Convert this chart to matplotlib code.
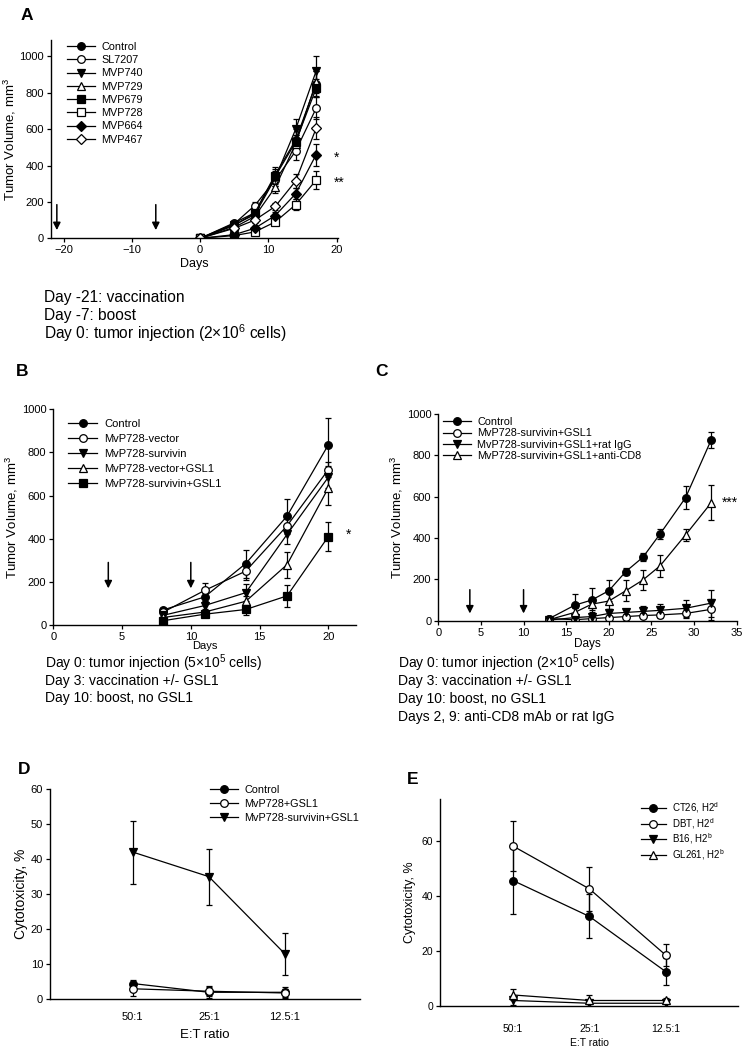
import matplotlib
matplotlib.use("Agg")
import matplotlib.pyplot as plt
from matplotlib.lines import Line2D

plt.rcParams['font.family'] = ['Liberation Sans', 'DejaVu Sans']
plt.rcParams['mathtext.fontset'] = 'custom'
plt.rcParams['mathtext.rm'] = 'Liberation Sans'

# ---------------- Panel A data ----------------
days_a = [0, 5, 8, 11, 14, 17]
a_names = ["Control", "SL7207", "MVP740", "MVP729", "MVP679", "MVP728", "MVP664", "MVP467"]
a_control = [0, 85, 140, 350, 540, 850]
a_control_err = [0, 10, 20, 40, 60, 70]
a_sl7207 = [0, 80, 180, 320, 480, 715]
a_sl7207_err = [0, 10, 20, 30, 50, 60]
a_mvp740 = [0, 75, 130, 330, 600, 920]
a_mvp740_err = [0, 10, 20, 40, 55, 80]
a_mvp729 = [0, 60, 120, 280, 520, 860]
a_mvp729_err = [0, 10, 20, 30, 50, 60]
a_mvp679 = [0, 70, 140, 340, 530, 825]
a_mvp679_err = [0, 10, 20, 40, 40, 50]
a_mvp728 = [0, 15, 35, 90, 185, 320]
a_mvp728_err = [0, 5, 10, 15, 30, 50]
a_mvp664 = [0, 20, 55, 125, 245, 460]
a_mvp664_err = [0, 5, 10, 20, 30, 60]
a_mvp467 = [0, 55, 100, 175, 315, 605]
a_mvp467_err = [0, 10, 15, 20, 40, 60]
a_arrows = [-21, -6.5]
a_text = ["Day -21: vaccination", "Day -7: boost", "Day 0: tumor injection (2×10$^6$ cells)"]

# ---------------- Panel B data ----------------
days_b = [8, 11, 14, 17, 20]
b_names = ["Control", "MvP728-vector", "MvP728-survivin", "MvP728-vector+GSL1", "MvP728-survivin+GSL1"]
b_control = [70, 130, 285, 505, 835]
b_control_err = [8, 20, 65, 80, 125]
b_vector = [60, 160, 250, 460, 720]
b_vector_err = [8, 35, 40, 40, 35]
b_survivin = [45, 90, 150, 420, 685]
b_survivin_err = [8, 20, 40, 45, 50]
b_vector_gsl = [35, 60, 110, 280, 635]
b_vector_gsl_err = [8, 15, 25, 60, 80]
b_survivin_gsl = [20, 50, 72, 135, 410]
b_survivin_gsl_err = [5, 12, 25, 50, 68]
b_arrows = [4, 10]
b_text = ["Day 0: tumor injection (5×10$^5$ cells)", "Day 3: vaccination +/- GSL1", "Day 10: boost, no GSL1"]

# ---------------- Panel C data ----------------
days_c = [13, 16, 18, 20, 22, 24, 26, 29, 32]
c_names = ["Control", "MvP728-survivin+GSL1", "MvP728-survivin+GSL1+rat IgG", "MvP728-survivin+GSL1+anti-CD8"]
c_control = [10, 75, 100, 145, 238, 307, 419, 595, 874]
c_control_err = [5, 55, 60, 50, 15, 20, 25, 55, 40]
c_gsl = [10, 5, 10, 15, 20, 25, 28, 35, 55]
c_gsl_err = [5, 5, 8, 10, 10, 12, 15, 20, 50]
c_igg = [3, 15, 20, 35, 40, 45, 50, 60, 85]
c_igg_err = [3, 10, 10, 20, 15, 25, 30, 40, 65]
c_cd8 = [5, 40, 80, 95, 145, 197, 265, 415, 570]
c_cd8_err = [5, 20, 30, 40, 50, 50, 55, 30, 85]
c_arrows = [3.7, 10]
c_text = ["Day 0: tumor injection (2×10$^5$ cells)", "Day 3: vaccination +/- GSL1",
          "Day 10: boost, no GSL1", "Days 2, 9: anti-CD8 mAb or rat IgG"]

# ---------------- Panel D data ----------------
ratios = ["50:1", "25:1", "12.5:1"]
d_names = ["Control", "MvP728+GSL1", "MvP728-survivin+GSL1"]
d_control = [4.5, 2.0, 2.0]
d_control_err = [1.0, 1.5, 1.5]
d_gsl = [3.0, 2.3, 1.8]
d_gsl_err = [2.0, 1.5, 1.2]
d_survivin = [42, 35, 13]
d_survivin_err = [9, 8, 6]

# ---------------- Panel E data ----------------
e_names = ["CT26, H2$^\\mathrm{d}$", "DBT, H2$^\\mathrm{d}$", "B16, H2$^\\mathrm{b}$", "GL261, H2$^\\mathrm{b}$"]
e_ct26 = [45.5, 32.5, 12.5]
e_ct26_err = [12, 8, 5]
e_dbt = [58, 42.5, 18.5]
e_dbt_err = [9, 8, 4]
e_b16 = [2.0, 1.0, 1.0]
e_b16_err = [1.5, 1.0, 1.0]
e_gl261 = [4.0, 2.0, 2.0]
e_gl261_err = [2.0, 2.0, 1.0]

W, H = 750, 1050
fig = plt.figure(figsize=(7.5, 10.5), dpi=100)


def make_ax(l, r, b, t, tsize=8):
    ax = fig.add_axes([l / W, 1 - b / H, (r - l) / W, (b - t) / H])
    for s in ["top", "right"]:
        ax.spines[s].set_visible(False)
    for s in ["left", "bottom"]:
        ax.spines[s].set_linewidth(1.0)
    ax.tick_params(direction="out", length=3, width=0.9, labelsize=tsize, pad=2)
    return ax


STY = {
    "fc": dict(marker="o", mfc="black"),
    "oc": dict(marker="o", mfc="white"),
    "ft": dict(marker="v", mfc="black"),
    "ot": dict(marker="^", mfc="white"),
    "fs": dict(marker="s", mfc="black"),
    "os": dict(marker="s", mfc="white"),
    "fd": dict(marker="D", mfc="black"),
    "od": dict(marker="D", mfc="white"),
}


def msize(st, ms):
    return ms * 0.85 if st["marker"] == "D" else ms


def series(ax, x, y, err, sty, ms=5.5):
    st = STY[sty]
    ax.errorbar(x, y, yerr=err, color="black", lw=0.9, elinewidth=0.9, capsize=2.5,
                capthick=0.9, marker=st["marker"], mfc=st["mfc"], mec="black",
                mew=0.9, ms=msize(st, ms))


def legend(ax, styles, labels, loc, bbox, fs, spacing, ms=5.5):
    handles = [Line2D([], [], color="black", lw=0.9, marker=STY[s]["marker"],
                      mfc=STY[s]["mfc"], mec="black", mew=0.9, ms=msize(STY[s], ms))
               for s in styles]
    ax.legend(handles, labels, loc=loc, bbox_to_anchor=bbox, frameon=False, fontsize=fs,
              handlelength=2.6, handletextpad=0.6, labelspacing=spacing,
              borderaxespad=0, borderpad=0)


def arrows(ax, xs, y0, y1):
    for x in xs:
        ax.annotate("", xy=(x, y1), xytext=(x, y0),
                    arrowprops=dict(arrowstyle="-|>", color="black", lw=1.1,
                                    mutation_scale=11, shrinkA=0, shrinkB=0))


# ---------- A ----------
axA = make_ax(50.7, 338, 238.3, 40)
a_styles = ["fc", "oc", "ft", "ot", "fs", "os", "fd", "od"]
for y, e, s in zip([a_control, a_sl7207, a_mvp740, a_mvp729, a_mvp679, a_mvp728, a_mvp664, a_mvp467],
                   [a_control_err, a_sl7207_err, a_mvp740_err, a_mvp729_err, a_mvp679_err,
                    a_mvp728_err, a_mvp664_err, a_mvp467_err], a_styles):
    series(axA, days_a, y, e, s)
axA.set_xlim(-21.9, 20.2)
axA.set_ylim(0, 1090)
axA.set_xticks([-20, -10, 0, 10, 20])
axA.set_yticks([0, 200, 400, 600, 800, 1000])
axA.set_xlabel("Days", fontsize=9, labelpad=2)
axA.set_ylabel("Tumor Volume, mm$^3$", fontsize=9.5, labelpad=0.5)
arrows(axA, a_arrows, 185, 45)
axA.text(19.6, 440, "*", fontsize=10, va="center")
axA.text(19.6, 305, "**", fontsize=10, va="center")
legend(axA, a_styles, a_names, "upper left", (0.055, 0.99), 7.8, 0.3)

# ---------- B ----------
axB = make_ax(53.3, 355.8, 625, 409.3)
b_styles = ["fc", "oc", "ft", "ot", "fs"]
for y, e, s in zip([b_control, b_vector, b_survivin, b_vector_gsl, b_survivin_gsl],
                   [b_control_err, b_vector_err, b_survivin_err, b_vector_gsl_err, b_survivin_gsl_err],
                   b_styles):
    series(axB, days_b, y, e, s)
axB.set_xlim(0, 22)
axB.set_ylim(0, 1000)
axB.set_xticks([0, 5, 10, 15, 20])
axB.set_yticks([0, 200, 400, 600, 800, 1000])
axB.set_xlabel("Days", fontsize=8, labelpad=-1)
axB.set_ylabel("Tumor Volume, mm$^3$", fontsize=9.5, labelpad=1)
arrows(axB, b_arrows, 290, 170)
axB.text(21.3, 420, "*", fontsize=10, va="center")
legend(axB, b_styles, b_names, "upper left", (0.05, 0.955), 8, 0.45)

# ---------- C ----------
axC = make_ax(438.3, 736.7, 620.7, 414)
c_styles = ["fc", "oc", "ft", "ot"]
for y, e, s in zip([c_control, c_gsl, c_igg, c_cd8],
                   [c_control_err, c_gsl_err, c_igg_err, c_cd8_err], c_styles):
    series(axC, days_c, y, e, s)
axC.set_xlim(0, 35)
axC.set_ylim(0, 1000)
axC.set_xticks([0, 5, 10, 15, 20, 25, 30, 35])
axC.set_yticks([0, 200, 400, 600, 800, 1000])
axC.set_xlabel("Days", fontsize=8.5, labelpad=0)
axC.set_ylabel("Tumor Volume, mm$^3$", fontsize=9.5, labelpad=1)
arrows(axC, c_arrows, 150, 35)
axC.text(33.2, 570, "***", fontsize=10, va="center")
legend(axC, c_styles, c_names, "upper left", (0.015, 0.985), 7.8, 0.12)

# ---------- D ----------
xpos = [1, 2, 3]
axD = make_ax(50, 360, 999.3, 789)
d_styles = ["fc", "oc", "ft"]
for y, e, s in zip([d_control, d_gsl, d_survivin],
                   [d_control_err, d_gsl_err, d_survivin_err], d_styles):
    series(axD, xpos, y, e, s)
axD.set_xlim(-0.09, 3.99)
axD.set_ylim(0, 60)
axD.set_xticks(xpos)
axD.set_xticklabels(ratios)
axD.set_yticks([0, 10, 20, 30, 40, 50, 60])
axD.tick_params(axis="x", length=0, pad=9)
axD.set_xlabel("E:T ratio", fontsize=9.5, labelpad=5)
axD.set_ylabel("Cytotoxicity, %", fontsize=10, labelpad=2)
legend(axD, d_styles, d_names, "upper left", (0.515, 1.02), 7.8, 0.38)

# ---------- E ----------
axE = make_ax(440, 738, 1006, 799.3, tsize=7.5)
e_styles = ["fc", "oc", "ft", "ot"]
for y, e, s in zip([e_ct26, e_dbt, e_b16, e_gl261],
                   [e_ct26_err, e_dbt_err, e_b16_err, e_gl261_err], e_styles):
    series(axE, xpos, y, e, s)
axE.set_xlim(0.04, 3.95)
axE.set_ylim(0, 75)
axE.set_xticks(xpos)
axE.set_xticklabels(ratios)
axE.set_yticks([0, 20, 40, 60])
axE.tick_params(axis="x", length=0, pad=13)
axE.set_xlabel("E:T ratio", fontsize=7.5, labelpad=3)
axE.set_ylabel("Cytotoxicity, %", fontsize=9, labelpad=4)
legend(axE, e_styles, e_names, "upper left", (0.674, 0.995), 7.0, 0.08)

# ---------- panel letters & notes ----------
for lab, x, y in [("A", 27, 15), ("B", 22, 372), ("C", 381, 372), ("D", 24, 770), ("E", 413, 779)]:
    fig.text(x / W, 1 - y / H, lab, fontsize=12.5, fontweight="bold", ha="center", va="center")

for i, t in enumerate(a_text):
    fig.text(44 / W, 1 - (297 + 18.3 * i) / H, t, fontsize=11.2, va="center")
for i, t in enumerate(b_text):
    fig.text(45 / W, 1 - (663 + 17.5 * i) / H, t, fontsize=10, va="center")
for i, t in enumerate(c_text):
    fig.text(398 / W, 1 - (663 + 18 * i) / H, t, fontsize=10, va="center")

fig.savefig("out.png", dpi=100, facecolor="white")
